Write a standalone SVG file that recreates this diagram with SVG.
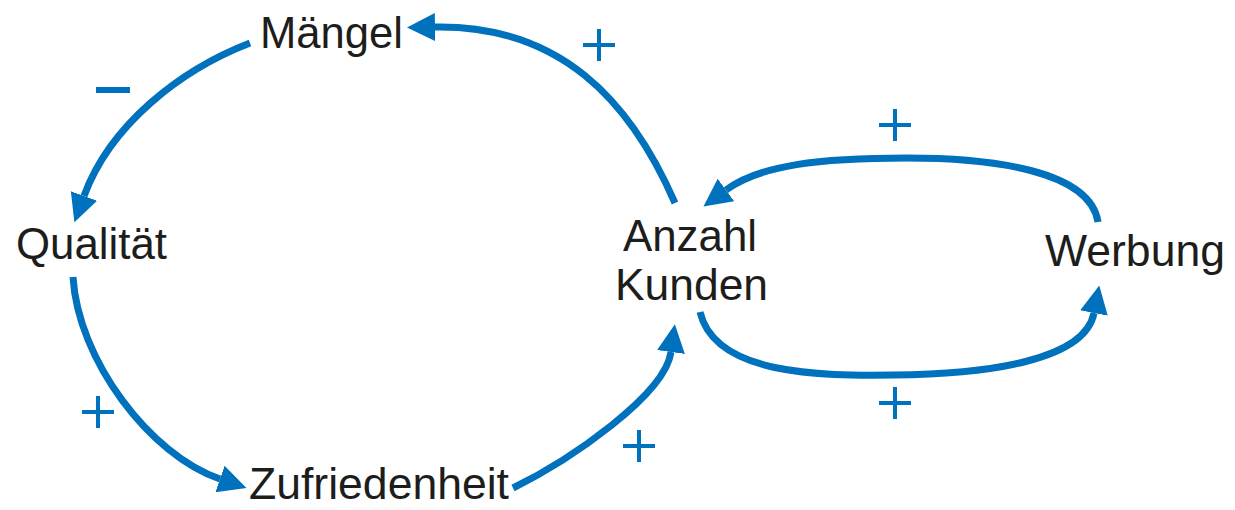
<svg xmlns="http://www.w3.org/2000/svg" width="1235" height="510" viewBox="0 0 1235 510">
  <style>
    .lbl { font-family: "Liberation Sans", Arial, sans-serif; font-size: 45px; fill: #1d1d1b; }
    .lbl2 { font-size: 43.5px; }
    .conn { fill: none; stroke: #0071bc; stroke-width: 7; }
    .sign { stroke: #0071bc; stroke-width: 4; fill: none; }
    .minus { stroke: #0071bc; stroke-width: 6; fill: none; }
  </style>
  <defs>
    <marker id="ah" markerUnits="userSpaceOnUse" viewBox="0 -15 30 30" markerWidth="30" markerHeight="30" refX="0" refY="0" orient="auto">
      <path d="M0,-14 L28,0 L0,14 Z" fill="#0071bc"/>
    </marker>
  </defs>
  <rect width="1235" height="510" fill="#ffffff"/>

  <g id="connectors">
    <path class="conn" d="M675,203 C630,100 560,25 435,27" marker-end="url(#ah)"/>
    <path class="conn" d="M250,43 C180,70 110,125 84,196" marker-end="url(#ah)"/>
    <path class="conn" d="M73,277 C78,360 150,455 220,479" marker-end="url(#ah)"/>
    <path class="conn" d="M513,488 C570,460 665,395 671,352" marker-end="url(#ah)"/>
    <path class="conn" d="M700,312 C715,375 820,376 893,375 C990,374 1085,360 1094,313" marker-end="url(#ah)"/>
    <path class="conn" d="M1098,222 C1090,170 990,158 907,158 C820,158 760,165 726,190" marker-end="url(#ah)"/>
  </g>

  <g id="polarities">
    <path class="sign" d="M583,45 H615 M599,29 V61"/>
    <path class="minus" d="M96,90 H130"/>
    <path class="sign" d="M82,412 H114 M98,396 V428"/>
    <path class="sign" d="M623,446 H655 M639,430 V462"/>
    <path class="sign" d="M879,125 H911 M895,109 V141"/>
    <path class="sign" d="M879,403 H911 M895,387 V419"/>
  </g>

  <g id="node-maengel">
    <text class="lbl" x="260" y="48" textLength="143" lengthAdjust="spacingAndGlyphs">Mängel</text>
  </g>
  <g id="node-qualitaet">
    <text class="lbl" x="16" y="259" textLength="151" lengthAdjust="spacingAndGlyphs">Qualität</text>
  </g>
  <g id="node-anzahl-kunden">
    <text class="lbl lbl2" x="623" y="251" textLength="134" lengthAdjust="spacingAndGlyphs">Anzahl</text>
    <text class="lbl lbl2" x="615" y="300" textLength="153" lengthAdjust="spacingAndGlyphs">Kunden</text>
  </g>
  <g id="node-werbung">
    <text class="lbl" x="1045" y="266" textLength="180" lengthAdjust="spacingAndGlyphs">Werbung</text>
  </g>
  <g id="node-zufriedenheit">
    <text class="lbl" x="249" y="499" textLength="260" lengthAdjust="spacingAndGlyphs">Zufriedenheit</text>
  </g>
</svg>
